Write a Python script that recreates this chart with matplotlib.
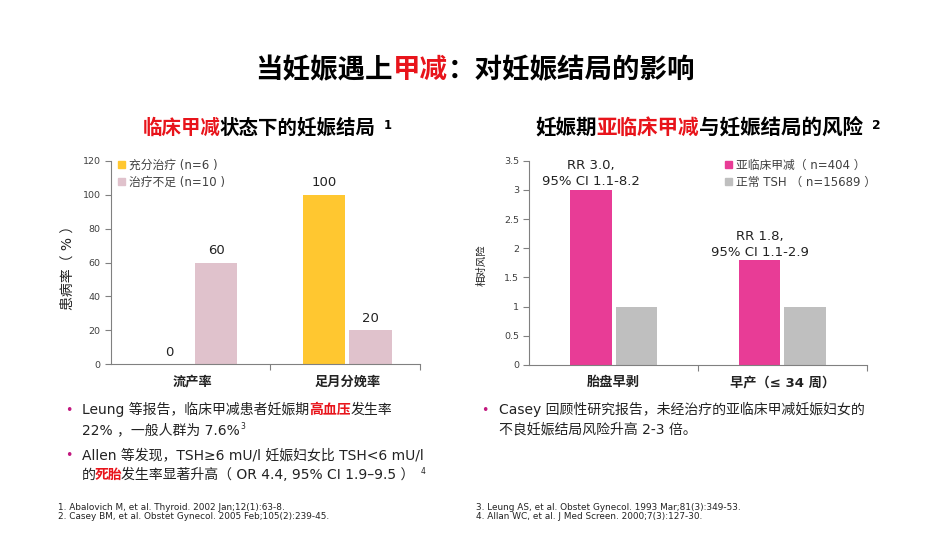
import matplotlib
matplotlib.use('Agg')
import matplotlib.pyplot as plt
from matplotlib.transforms import offset_copy
from matplotlib.patches import Patch
import numpy as np

plt.rcParams['font.family'] = ['DejaVu Sans', 'Noto Sans CJK SC']

# data
left_cats = ['流产率', '足月分娩率']
left_treated = [0, 100]
left_under = [60, 20]
left_series = ['充分治疗 (n=6 )', '治疗不足 (n=10 )']

right_cats = ['胎盘早剥', '早产（≤ 34 周）']
right_sub = [3.0, 1.8]
right_norm = [1, 1]
right_series = ['亚临床甲减（ n=404 ）', '正常 TSH （ n=15689 ）']
rr_labels = ['RR 3.0,\n95% CI 1.1-8.2', 'RR 1.8,\n95% CI 1.1-2.9']

refs_left = ['1. Abalovich M, et al. Thyroid. 2002 Jan;12(1):63-8.',
             '2. Casey BM, et al. Obstet Gynecol. 2005 Feb;105(2):239-45.']
refs_right = ['3. Leung AS, et al. Obstet Gynecol. 1993 Mar;81(3):349-53.',
              '4. Allan WC, et al. J Med Screen. 2000;7(3):127-30.']

RED = '#E8141B'
YELLOW = '#FFC730'
PINK_L = '#E0C2CC'
MAGENTA = '#E83C96'
GRAY = '#BFBFBF'
TXT = '#222222'

fig = plt.figure(figsize=(9.5, 5.35), dpi=100)
renderer = fig.canvas.get_renderer()


def rich(x, y, parts, size=10):
    # parts: (text, color, bold, dy_px, size_factor, gap_px_before)
    dx = 0
    for p in parts:
        s, color, bold = p[0], p[1], p[2]
        dy = p[3] if len(p) > 3 else 0
        sf = p[4] if len(p) > 4 else 1.0
        dx += p[5] if len(p) > 5 else 0
        tr = offset_copy(fig.transFigure, fig=fig, x=dx, y=dy, units='dots')
        t = fig.text(x / 950, 1 - y / 535, s, transform=tr, color=color,
                     fontsize=size * sf, fontweight='bold' if bold else 'normal',
                     va='baseline', ha='left')
        dx += t.get_window_extent(renderer).width


# title
rich(255, 78, [('当妊娠遇上', 'black', True), ('甲减', RED, True),
               ('：对妊娠结局的影响', 'black', True)], size=19.8)

# subtitles
rich(143, 134, [('临床甲减', RED, True), ('状态下的妊娠结局', 'black', True, 0, 1, -2),
                ('1', 'black', True, 5, 0.6, 9)], size=14)
rich(535, 134, [('妊娠期', 'black', True), ('亚临床甲减', RED, True),
                ('与妊娠结局的风险', 'black', True), ('2', 'black', True, 5, 0.6, 9)],
     size=14.8)


def style_axes(ax):
    for s in ['top', 'right']:
        ax.spines[s].set_visible(False)
    for s in ['left', 'bottom']:
        ax.spines[s].set_color('#808080')
        ax.spines[s].set_linewidth(0.8)
    ax.tick_params(axis='y', labelsize=6.8, colors='#808080', labelcolor='#404040',
                   length=4, width=0.8)


# left chart
ax1 = fig.add_axes([111 / 950, 1 - 364.3 / 535, 309 / 950, 203.6 / 535])
style_axes(ax1)
x = np.arange(len(left_cats))
w, g = 0.275, 0.026
b1 = ax1.bar(x - (w + g) / 2, left_treated, w, color=YELLOW)
b2 = ax1.bar(x + (w + g) / 2, left_under, w, color=PINK_L)
for bars in (b1, b2):
    for r in bars:
        ax1.annotate('%g' % r.get_height(), (r.get_x() + r.get_width() / 2, r.get_height()),
                     xytext=(0, 4), textcoords='offset points', ha='center', va='bottom',
                     fontsize=9.5, color=TXT)
ax1.set_xlim(-0.53, 1.47)
ax1.set_ylim(0, 120)
ax1.set_yticks(range(0, 121, 20))
ax1.set_xticks(x)
ax1.set_xticklabels(left_cats, fontsize=9.5, fontweight='bold', color=TXT)
ax1.tick_params(axis='x', which='major', length=0, pad=8)
ax1.set_xticks([0.5, 1.47], minor=True)
ax1.tick_params(axis='x', which='minor', length=4, color='#808080', width=0.8)
ax1.set_ylabel('患病率（ % ）', fontsize=10, color=TXT)
ax1.yaxis.set_label_coords(-0.117, 0.49)
ax1.legend(handles=[Patch(color=YELLOW), Patch(color=PINK_L)], labels=left_series,
           loc='upper left', bbox_to_anchor=(0.0, 1.045), frameon=False, fontsize=8.5,
           handlelength=0.6, handleheight=0.6, handletextpad=0.3, labelspacing=0.35,
           borderaxespad=0.2, labelcolor='#404040')

# right chart
ax2 = fig.add_axes([529.3 / 950, 1 - 365 / 535, 337.4 / 950, 204.3 / 535])
style_axes(ax2)
x2 = np.arange(len(right_cats))
w2, g2 = 0.245, 0.025
r1 = ax2.bar(x2 - (w2 + g2) / 2, right_sub, w2, color=MAGENTA)
r2 = ax2.bar(x2 + (w2 + g2) / 2, right_norm, w2, color=GRAY)
for r, lab in zip(r1, rr_labels):
    ax2.annotate(lab, (r.get_x() + r.get_width() / 2, r.get_height()),
                 xytext=(0, 1), textcoords='offset points', ha='center', va='bottom',
                 fontsize=9.5, color=TXT, linespacing=1.3)
ax2.set_xlim(-0.5, 1.5)
ax2.set_ylim(0, 3.5)
ax2.set_yticks(np.arange(0, 3.51, 0.5))
ax2.set_yticklabels(['%g' % v for v in np.arange(0, 3.51, 0.5)])
ax2.set_xticks(x2)
ax2.set_xticklabels(right_cats, fontsize=9.5, fontweight='bold', color=TXT)
ax2.tick_params(axis='x', which='major', length=0, pad=8)
ax2.set_xticks([0.5, 1.5], minor=True)
ax2.tick_params(axis='x', which='minor', length=4, color='#808080', width=0.8)
ax2.set_ylabel('相对风险', fontsize=7.5, color=TXT)
ax2.yaxis.set_label_coords(-0.128, 0.49)
ax2.legend(handles=[Patch(color=MAGENTA), Patch(color=GRAY)], labels=right_series,
           loc='upper left', bbox_to_anchor=(0.56, 1.045), frameon=False, fontsize=8.5,
           handlelength=0.6, handleheight=0.6, handletextpad=0.3, labelspacing=0.35,
           borderaxespad=0.2, labelcolor='#404040')

# bullets
BUL = '#C2187F'
for bx, by in [(69, 414), (69, 459), (485, 414)]:
    fig.text(bx / 950, 1 - by / 535, '•', color=BUL, fontsize=9, va='baseline', ha='center')

rich(82, 414, [('Leung 等报告，临床甲减患者妊娠期', TXT, False), ('高血压', RED, True),
               ('发生率', TXT, False)], size=10)
rich(82, 434, [('22% ，一般人群为 7.6%', TXT, False), ('3', TXT, False, 5, 0.55, 1)], size=10)
rich(82, 459, [('Allen 等发现，TSH≥6 mU/l 妊娠妇女比 TSH<6 mU/l', TXT, False)], size=10)
rich(82, 479, [('的', TXT, False), ('死胎', RED, True, 0, 1, -1),
               ('发生率显著升高（ OR 4.4, 95% CI 1.9–9.5 ）', TXT, False, 0, 1, -1.5),
               ('4', TXT, False, 5, 0.55, 6)], size=10)
rich(499, 414, [('Casey 回顾性研究报告，未经治疗的亚临床甲减妊娠妇女的', TXT, False)], size=10)
rich(499, 434, [('不良妊娠结局风险升高 2-3 倍。', TXT, False)], size=10)

# references
for i, (a, b) in enumerate(zip(refs_left, refs_right)):
    yy = 1 - (510 + 9 * i) / 535
    fig.text(58 / 950, yy, a, fontsize=6.4, color=TXT, va='baseline')
    fig.text(476 / 950, yy, b, fontsize=6.4, color=TXT, va='baseline')

fig.savefig('out.png', dpi=100)
